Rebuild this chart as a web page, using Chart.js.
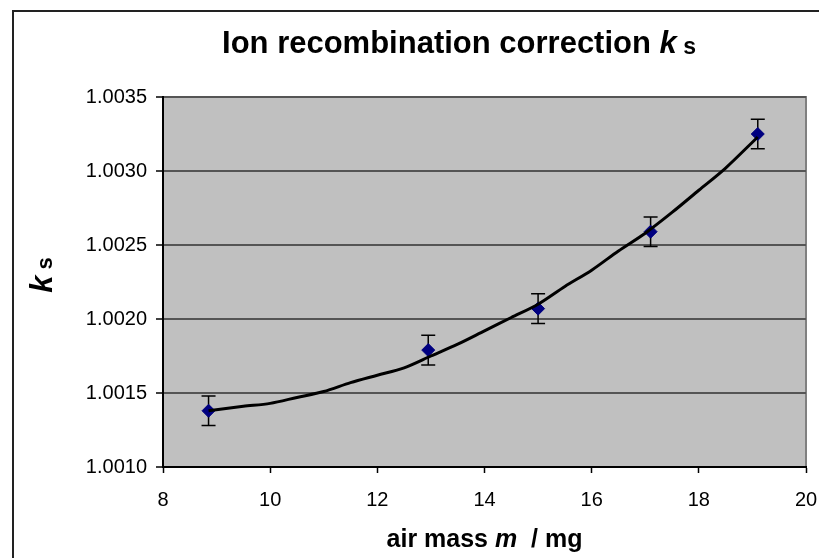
<!DOCTYPE html>
<html>
<head>
<meta charset="utf-8">
<script src="https://cdn.jsdelivr.net/npm/chart.js@4.4.1/dist/chart.umd.min.js"></script>
<style>
  html, body { margin: 0; padding: 0; background: #fff; overflow: hidden; }
  #wrap { position: relative; width: 819px; height: 558px; }
  #frame {
    position: absolute; left: 12px; top: 10px; width: 900px; height: 600px;
    border-left: 2px solid #222; border-top: 2px solid #222;
  }
  canvas { position: absolute; left: 0; top: 0; }
</style>
</head>
<body>
<div id="wrap">
  <canvas id="chart" width="819" height="558"></canvas>
  <div id="frame"></div>
</div>
<script>
// -------------------- Data --------------------
const massPoints = [8.85, 12.95, 15.0, 17.1, 19.1];       // air mass m / mg
const ksPoints   = [1.00138, 1.00179, 1.00207, 1.00259, 1.00325];
const ksError    = [0.0001, 0.0001, 0.0001, 0.0001, 0.0001];

// fitted curve
const fitMass = [8.85, 9.5, 10.0, 10.5, 11.0, 11.5, 12.0, 12.5, 13.0, 13.5, 14.0,
                 14.5, 15.0, 15.5, 16.0, 16.5, 17.0, 17.5, 18.0, 18.5, 19.1];
const fitKs   = [1.00138, 1.00141, 1.00143, 1.00147, 1.00151, 1.00157, 1.00162,
                 1.00167, 1.00175, 1.00183, 1.00192, 1.00201, 1.00210, 1.00222,
                 1.00233, 1.00246, 1.00258, 1.00272, 1.00287, 1.00302, 1.00323];

const xTicks = [8, 10, 12, 14, 16, 18, 20];
const yTicks = [1.0010, 1.0015, 1.0020, 1.0025, 1.0030, 1.0035];

const FONT = "'Liberation Sans', Arial, sans-serif";

// -------------------- Helpers --------------------
function drawRich(ctx, parts, x, y) {
  // parts: [{text, font, dy}] drawn left to right, centred on x
  let total = 0;
  parts.forEach(p => { ctx.font = p.font; p.w = ctx.measureText(p.text).width; total += p.w; });
  let cx = x - total / 2;
  ctx.textAlign = "left";
  ctx.textBaseline = "alphabetic";
  parts.forEach(p => {
    ctx.font = p.font;
    ctx.fillText(p.text, cx, y + (p.dy || 0));
    cx += p.w;
  });
}

// plot area background + frame
const plotArea = {
  id: "plotArea",
  beforeDraw(chart) {
    const { ctx, chartArea: a } = chart;
    ctx.save();
    ctx.fillStyle = "#c0c0c0";
    ctx.fillRect(a.left, a.top, a.right - a.left, a.bottom - a.top);
    ctx.strokeStyle = "#808080";
    ctx.lineWidth = 2;
    ctx.strokeRect(a.left, a.top, a.right - a.left, a.bottom - a.top);
    ctx.restore();
  }
};

// error bars from the data arrays
const errorBars = {
  id: "errorBars",
  beforeDatasetsDraw(chart) {
    const { ctx, scales: { x, y } } = chart;
    ctx.save();
    ctx.strokeStyle = "#000";
    ctx.lineWidth = 1.5;
    massPoints.forEach((m, i) => {
      const px = x.getPixelForValue(m);
      const top = y.getPixelForValue(ksPoints[i] + ksError[i]);
      const bot = y.getPixelForValue(ksPoints[i] - ksError[i]);
      ctx.beginPath();
      ctx.moveTo(px, top); ctx.lineTo(px, bot);
      ctx.moveTo(px - 7, top); ctx.lineTo(px + 7, top);
      ctx.moveTo(px - 7, bot); ctx.lineTo(px + 7, bot);
      ctx.stroke();
    });
    ctx.restore();
  }
};

// titles with italic symbols and subscripts
const richTitles = {
  id: "richTitles",
  afterDraw(chart) {
    const { ctx, chartArea: a } = chart;
    ctx.save();
    ctx.fillStyle = "#000";
    drawRich(ctx, [
      { text: "Ion recombination correction ", font: "bold 31px " + FONT },
      { text: "k", font: "italic bold 31px " + FONT },
      { text: " s", font: "bold 23px " + FONT, dy: 1 }
    ], 459, 53);

    drawRich(ctx, [
      { text: "air mass", font: "bold 25px " + FONT },
      { text: " m", font: "italic bold 25px " + FONT },
      { text: "  / mg", font: "bold 25px " + FONT }
    ], (a.left + a.right) / 2, 547);

    ctx.translate(52, 275);
    ctx.rotate(-Math.PI / 2);
    drawRich(ctx, [
      { text: "k", font: "italic bold 31px " + FONT },
      { text: " s", font: "bold 22px " + FONT }
    ], 0, 0);
    ctx.restore();
  }
};

// -------------------- Chart --------------------
const ctx = document.getElementById("chart").getContext("2d");
const chart = new Chart(ctx, {
  type: "scatter",
  data: {
    datasets: [
      {
        label: "fit",
        data: fitMass.map((m, i) => ({ x: m, y: fitKs[i] })),
        showLine: true,
        borderColor: "#000",
        borderWidth: 3,
        pointRadius: 0,
        tension: 0.3,
        order: 0
      },
      {
        label: "ks",
        data: massPoints.map((m, i) => ({ x: m, y: ksPoints[i] })),
        pointStyle: "rectRot",
        pointRadius: 6.5,
        backgroundColor: "#000080",
        borderColor: "#000080",
        borderWidth: 1,
        order: 1
      }
    ]
  },
  options: {
    responsive: false,
    animation: false,
    layout: { padding: { left: 0, top: 97, right: 13, bottom: 0 } },
    plugins: {
      legend: { display: false },
      title: { display: false },
      tooltip: { enabled: false }
    },
    scales: {
      x: {
        type: "linear",
        min: xTicks[0],
        max: xTicks[xTicks.length - 1],
        afterBuildTicks: s => { s.ticks = xTicks.map(v => ({ value: v })); },
        afterFit: s => { s.height = 91; s.paddingLeft = 0; s.paddingRight = 0; },
        ticks: { color: "#000", font: { family: FONT, size: 20 }, padding: 15 },
        grid: { drawOnChartArea: false, tickLength: 6, tickColor: "#000", tickWidth: 1.5 },
        border: { color: "#000", width: 2 }
      },
      y: {
        type: "linear",
        min: yTicks[0],
        max: yTicks[yTicks.length - 1],
        afterBuildTicks: s => { s.ticks = yTicks.map(v => ({ value: v })); },
        afterFit: s => { s.width = 163; s.paddingTop = 0; s.paddingBottom = 0; },
        ticks: {
          color: "#000",
          font: { family: FONT, size: 20 },
          padding: 9,
          callback: v => Number(v).toFixed(4)
        },
        grid: { color: "#555", lineWidth: 2, tickLength: 7, tickColor: "#000", tickWidth: 1.5 },
        border: { color: "#000", width: 2 }
      }
    }
  },
  plugins: [plotArea, errorBars, richTitles]
});
</script>
</body>
</html>
